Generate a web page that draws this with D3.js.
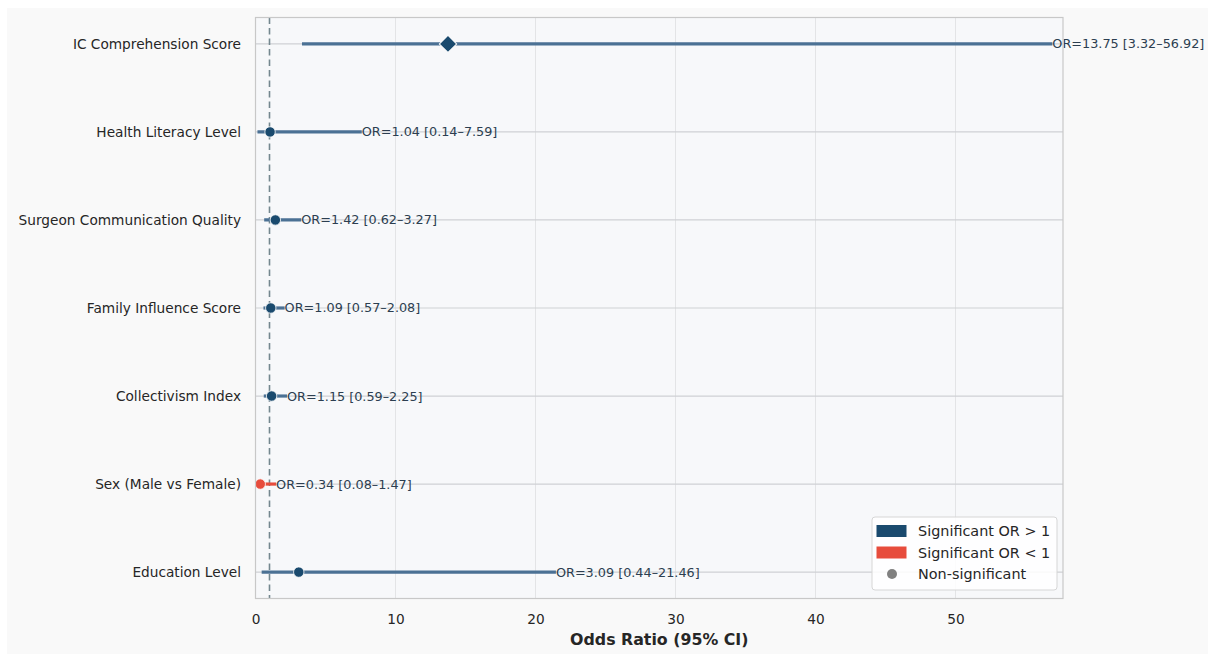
<!DOCTYPE html>
<html><head><meta charset="utf-8">
<script src="https://cdn.jsdelivr.net/npm/d3@7"></script>
<style>
html,body{margin:0;padding:0;background:#fff;}
svg{display:block;font-family:"DejaVu Sans",sans-serif;}
</style></head>
<body>
<script>
const categories = ["IC Comprehension Score","Health Literacy Level","Surgeon Communication Quality","Family Influence Score","Collectivism Index","Sex (Male vs Female)","Education Level"];
const oddsRatios = [13.75, 1.04, 1.42, 1.09, 1.15, 0.34, 3.09];
const ciLower = [3.32, 0.14, 0.62, 0.57, 0.59, 0.08, 0.44];
const ciUpper = [56.92, 7.59, 3.27, 2.08, 2.25, 1.47, 21.46];
const groups = ["sig","ns","ns","ns","ns","low","ns"];
const xTicks = [0,10,20,30,40,50];
const legendLabels = ["Significant OR > 1","Significant OR < 1","Non-significant"];

const W=1208,H=654;
const svg=d3.select("body").append("svg").attr("width",W).attr("height",H);
svg.append("rect").attr("x",7).attr("y",8).attr("width",W-7).attr("height",H-8).attr("fill","#f9f9f9");

const L=255.5,R=1063,T=17.5,B=598.5;
const x=d3.scaleLinear().domain([0,57.68]).range([L,R]);
const y=d3.scaleLinear().domain([-0.3,6.3]).range([T,B]);

svg.append("rect").attr("x",L).attr("y",T).attr("width",R-L).attr("height",B-T).attr("fill","#f7f8fa");

svg.append("g").selectAll("line").data(xTicks).join("line")
  .attr("x1",d=>x(d)).attr("x2",d=>x(d)).attr("y1",T).attr("y2",B)
  .attr("stroke","#e3e4e6").attr("stroke-width",1);
svg.append("g").selectAll("line").data(categories).join("line")
  .attr("x1",L).attr("x2",R).attr("y1",(d,i)=>y(i)).attr("y2",(d,i)=>y(i))
  .attr("stroke","#cfd1d4").attr("stroke-width",1.2);

svg.append("line").attr("x1",x(1)).attr("x2",x(1)).attr("y1",T).attr("y2",B)
  .attr("stroke","#74878f").attr("stroke-width",1.6).attr("stroke-dasharray","6.5,4");

const ciColor=g=>g==="low"?"#e74c3c":"#4b7194";
const ptColor=g=>g==="low"?"#e74c3c":"#1a4a6e";

const rows=categories.map((c,i)=>({c,i,or:oddsRatios[i],lo:ciLower[i],hi:ciUpper[i],g:groups[i]}));
svg.append("g").selectAll("line").data(rows).join("line")
  .attr("x1",d=>x(d.lo)).attr("x2",d=>x(d.hi)).attr("y1",d=>y(d.i)).attr("y2",d=>y(d.i))
  .attr("stroke",d=>ciColor(d.g)).attr("stroke-width",3.2);

const pts=svg.append("g");
rows.forEach(d=>{
  if(d.g==="sig"){
    pts.append("path").attr("d",d3.symbol(d3.symbolSquare,150)())
      .attr("transform",`translate(${x(d.or)},${y(d.i)}) rotate(45)`)
      .attr("fill",ptColor(d.g)).attr("stroke","#fff").attr("stroke-width",1);
  } else {
    pts.append("circle").attr("cx",x(d.or)).attr("cy",y(d.i)).attr("r",5.2)
      .attr("fill",ptColor(d.g)).attr("stroke","#fff").attr("stroke-width",0.8);
  }
});

svg.append("g").selectAll("text").data(rows).join("text")
  .attr("x",d=>x(d.hi)).attr("y",d=>y(d.i)).attr("dy","0.35em")
  .attr("font-size",12.8).attr("fill","#2c3e50")
  .text(d=>`OR=${d.or.toFixed(2)} [${d.lo.toFixed(2)}–${d.hi.toFixed(2)}]`);

svg.append("rect").attr("x",L).attr("y",T).attr("width",R-L).attr("height",B-T)
  .attr("fill","none").attr("stroke","#c8c8c8").attr("stroke-width",1.2);

svg.append("g").selectAll("text").data(categories).join("text")
  .attr("x",241).attr("y",(d,i)=>y(i)).attr("dy","0.35em").attr("text-anchor","end")
  .attr("font-size",13.7).attr("fill","#262626").text(d=>d);

const xAxis=d3.axisBottom(x).tickValues(xTicks).tickSize(0).tickPadding(16).tickFormat(d3.format("d"));
const gx=svg.append("g").attr("transform",`translate(0,${B})`).call(xAxis);
gx.select(".domain").remove();
gx.selectAll("text").attr("font-size",13.7).attr("fill","#262626").attr("font-family","DejaVu Sans");

svg.append("text").attr("x",(L+R)/2).attr("y",645).attr("text-anchor","middle")
  .attr("font-size",15.8).attr("font-weight","bold").attr("fill","#262626").text("Odds Ratio (95% CI)");

const lg=svg.append("g").attr("transform","translate(872,517)");
lg.append("rect").attr("width",185).attr("height",73).attr("rx",3)
  .attr("fill","#ffffff").attr("fill-opacity",0.85).attr("stroke","#d6d6d6");
const legColors=["#1a4a6e","#e74c3c","#808080"];
legendLabels.forEach((t,i)=>{
  const yy=14+i*21.5;
  if(i<2){
    lg.append("rect").attr("x",4.5).attr("y",yy-6).attr("width",30).attr("height",12).attr("fill",legColors[i]);
  } else {
    lg.append("circle").attr("cx",20).attr("cy",yy).attr("r",5).attr("fill",legColors[i]);
  }
  lg.append("text").attr("x",46).attr("y",yy).attr("dy","0.35em").attr("font-size",14.4).attr("fill","#262626").text(t);
});
</script>
</body></html>
